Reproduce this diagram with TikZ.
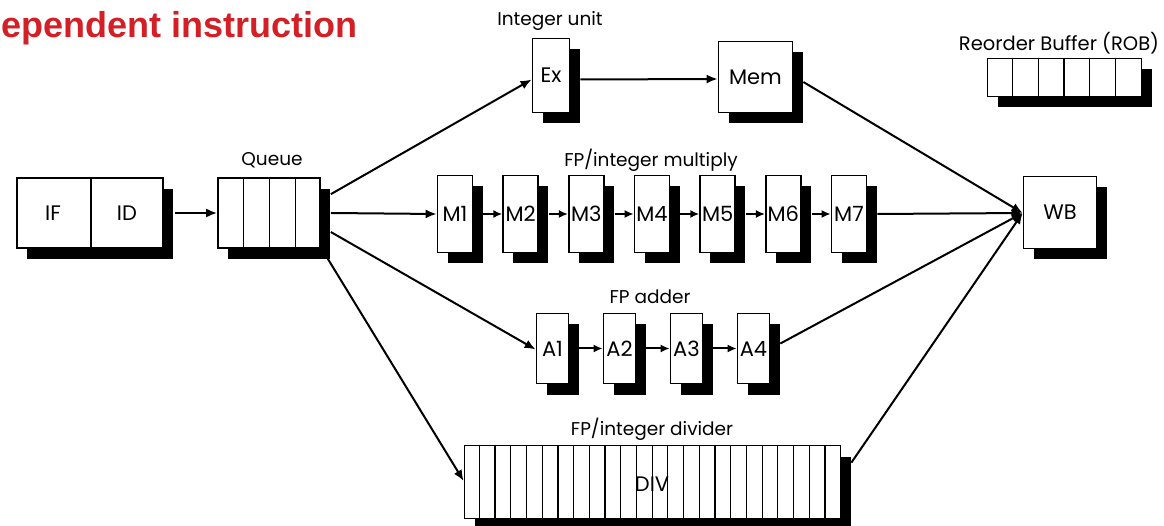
\documentclass[tikz,border=0pt]{standalone}
\usepackage{fontspec}
\newfontfamily\titlefont{Liberation Sans}
\newfontfamily\gothic{Poppins}
\usetikzlibrary{arrows.meta,shadows,calc}
\definecolor{titlered}{RGB}{210,32,38}
\tikzset{
  box/.style={draw, line width=1.7pt, fill=white, inner sep=0pt,
    drop shadow={shadow xshift=10pt, shadow yshift=-11pt, fill=black, opacity=1}},
  blabel/.style={inner sep=0pt, font=\gothic\fontsize{21}{24}\selectfont},
  slabel/.style={inner sep=0pt, font=\gothic\fontsize{18.5}{21}\selectfont},
  divline/.style={line width=1.2pt},
  arr/.style={line width=2pt, -{Latex[length=11pt,width=9pt]}},
  sarr/.style={line width=2pt, -{Latex[length=9pt,width=8pt]}},
}
\begin{document}
\begin{tikzpicture}[x=1pt,y=-1pt]
\useasboundingbox (0,0) rectangle (1164,526);

% title
\node[anchor=base east, text=titlered, inner sep=0pt,
  font=\titlefont\bfseries\fontsize{36}{40}\selectfont] (title) at (358,38) {ependent instruction};

% IF / ID
\node[box, minimum width=146, minimum height=70] (ifid) at (90,213) {};
\draw[divline] (ifid.north) ++(1,0) coordinate (ifidtop) -- (ifidtop |- ifid.south);
\node[blabel] (IFt) at (53,213) {IF};
\node[blabel] (IDt) at (127,213) {ID};

% Queue
\node[box, minimum width=102, minimum height=70] (queue) at (269,213) {};
\foreach \k in {1,2,3}
  \draw[divline] ($(queue.north west)+(26*\k,0)$) -- ($(queue.south west)+(26*\k,0)$);
\node[slabel] (queuet) at (272,160) {Queue};

% Integer unit
\node[box, minimum width=37, minimum height=74] (Ex) at (551,75.5) {};
\node[blabel] (Ext) at (Ex) {Ex};
\node[slabel] (intt) at (550,21) {Integer unit};
\node[box, minimum width=74, minimum height=71] (Mem) at (755.5,77) {};
\node[blabel] (Memt) at (Mem) {Mem};

% Multiply
\node[slabel] (mult) at (651,160) {FP/integer multiply};
\foreach \i in {1,...,7} {
  \pgfmathsetmacro\cx{455+65.667*(\i-1)}
  \node[box, minimum width=35, minimum height=77] (M\i) at (\cx,214) {};
  \node[blabel] (M\i t) at (M\i) {M\i};
}
\foreach \i [evaluate=\i as \j using int(\i+1)] in {1,...,6}
  \draw[sarr] ($(M\i.east)+(10,0)$) -- (M\j.west);

% Adder
\node[slabel] (addt) at (650,297) {FP adder};
\foreach \i in {1,...,4} {
  \pgfmathsetmacro\cx{552.5+67*(\i-1)}
  \node[box, minimum width=32, minimum height=70] (A\i) at (\cx,348.5) {};
  \node[blabel] (A\i t) at (A\i) {A\i};
}
\foreach \i [evaluate=\i as \j using int(\i+1)] in {1,...,3}
  \draw[sarr] ($(A\i.east)+(10,0)$) -- (A\j.west);

% Divider
\node[slabel] (divt) at (652,429) {FP/integer divider};
\node[box, minimum width=376, minimum height=73] (DIV) at (652.5,482) {};
\foreach \k in {1,...,23}
  \draw[divline] ($(DIV.north west)+(15.708*\k,0)$) -- ($(DIV.south west)+(15.708*\k,0)$);
\node[blabel] (DIVt) at (652,484) {DIV};

% WB
\node[box, minimum width=73, minimum height=72] (WB) at (1060,212.5) {};
\node[blabel] (WBt) at (WB) {WB};

% ROB
\node[slabel, font=\gothic\fontsize{19.5}{22}\selectfont] (robt) at (1059,43) {Reorder Buffer (ROB)};
\node[box, minimum width=154, minimum height=38] (ROB) at (1064.5,77.5) {};
\foreach \k in {1,...,5}
  \draw[divline] ($(ROB.north west)+(25.8*\k,0)$) -- ($(ROB.south west)+(25.8*\k,0)$);

% connectors
\draw[arr] ($(ifid.east)+(11,0)$) -- (queue.west);
\draw[arr] ($(queue.north east)+(10,17)$) -- ($(Ex.west)+(0,4)$);
\draw[arr] ($(queue.east)+(10,0)$) -- (M1.west);
\draw[arr] ($(queue.east)+(10,19)$) -- ($(A1.west)+(0,1)$);
\draw[arr] ($(queue.south east)+(7,10)$) -- ($(DIV.west)+(0,-1)$);
\draw[arr] ($(Ex.east)+(10,4)$) -- ($(Mem.west)+(0,2)$);
\draw[arr] ($(Mem.east)+(10,5)$) -- ($(WB.west)+(0,0.5)$);
\draw[arr] ($(M7.east)+(10,0)$) -- ($(WB.west)+(0,0.5)$);
\draw[arr] ($(A4.east)+(10,-5)$) -- ($(WB.west)+(0,0.5)$);
\draw[arr] ($(DIV.north east)+(10,18)$) -- ($(WB.west)+(0,0.5)$);
\end{tikzpicture}
\end{document}
